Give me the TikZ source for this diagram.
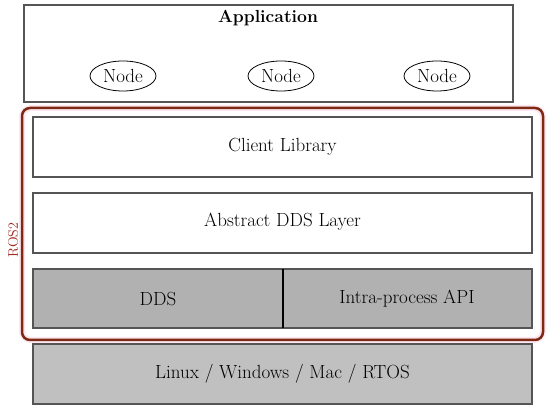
\documentclass[tikz,border=0pt]{standalone}
\usetikzlibrary{shapes.geometric}
\definecolor{boxline}{HTML}{555555}
\definecolor{rosred}{HTML}{7E2A12}
\definecolor{roshalo}{HTML}{FCE6F0}
\definecolor{roslabel}{HTML}{9E2A22}
\definecolor{ddsgray}{HTML}{B1B1B1}
\definecolor{osgray}{HTML}{C0C0C0}
\tikzset{
  layer/.style={draw=boxline, line width=1.1pt},
  lbl/.style={font=\fontsize{19}{22}\selectfont, inner sep=0pt},
  rosnode/.style={draw=black, line width=0.8pt, ellipse, minimum width=66pt, minimum height=30pt, inner sep=0pt, font=\fontsize{19}{22}\selectfont},
}
\begin{document}
\begin{tikzpicture}[x=1pt,y=1pt]
\useasboundingbox (0,0) rectangle (550,411);
\fill[white] (0,0) rectangle (550,411);
% Application
\draw[layer] (24,406) rectangle (513,309);
\node[inner sep=0pt, font=\fontsize{17.5}{20}\selectfont\bfseries] (app) at (268,393) {Application};
\node[rosnode] (n1) at (123,335) {Node};
\node[rosnode] (n2) at (281,335) {Node};
\node[rosnode] (n3) at (437,335) {Node};
% ROS2 frame
\draw[roshalo, line width=6pt, rounded corners=9pt] (22,303) rectangle (543,71);
\draw[rosred, line width=2.5pt, rounded corners=8pt] (22,303) rectangle (543,71);
\node[rotate=90, text=roslabel, font=\fontsize{14}{16}\selectfont, inner sep=0pt] (ros) at (13,171) {ROS2};
% layers
\draw[layer, fill=white] (33,294) rectangle (532,234);
\node[lbl] (cl) at (282.5,264) {Client Library};
\draw[layer, fill=white] (33,218) rectangle (532,158);
\node[lbl] (adl) at (282.5,189) {Abstract DDS Layer};
\draw[layer, fill=ddsgray] (33,142) rectangle (532,83);
\draw[black, line width=1.6pt] (283,142) -- (283,83);
\node[lbl] (dds) at (158,112) {DDS};
\node[lbl] (ipa) at (407,112) {Intra-process API};
\draw[layer, fill=osgray] (33,67) rectangle (532,7);
\node[lbl] (os) at (282.5,37) {Linux / Windows / Mac / RTOS};
\end{tikzpicture}
\end{document}
